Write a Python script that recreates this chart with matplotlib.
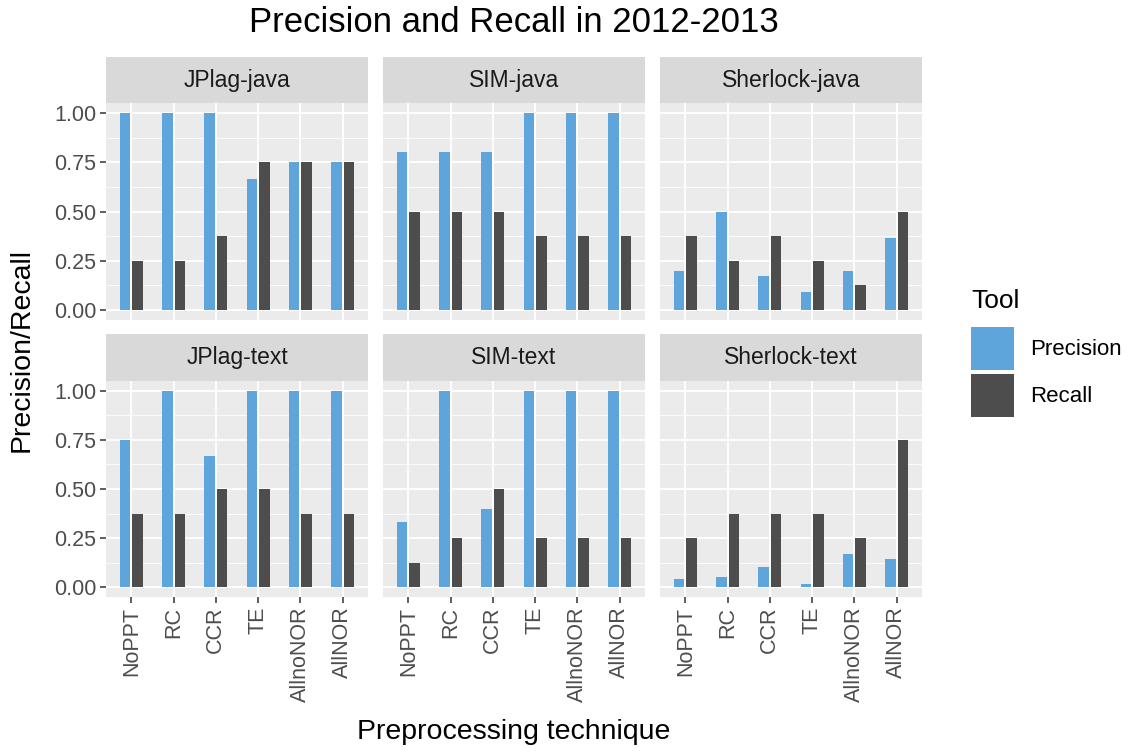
import matplotlib
matplotlib.use("Agg")
import matplotlib.pyplot as plt
import numpy as np

plt.rcParams['font.family'] = ['Liberation Sans', 'DejaVu Sans']

# data
techniques = ["NoPPT", "RC", "CCR", "TE", "AllnoNOR", "AllNOR"]
panels = ["JPlag-java", "SIM-java", "Sherlock-java",
          "JPlag-text", "SIM-text", "Sherlock-text"]

precision = {
    "JPlag-java":    [1.00, 1.00, 1.00, 0.667, 0.75, 0.75],
    "SIM-java":      [0.80, 0.80, 0.80, 1.00, 1.00, 1.00],
    "Sherlock-java": [0.20, 0.50, 0.175, 0.091, 0.20, 0.364],
    "JPlag-text":    [0.75, 1.00, 0.667, 1.00, 1.00, 1.00],
    "SIM-text":      [0.333, 1.00, 0.40, 1.00, 1.00, 1.00],
    "Sherlock-text": [0.043, 0.051, 0.105, 0.015, 0.167, 0.143],
}
recall = {
    "JPlag-java":    [0.25, 0.25, 0.375, 0.75, 0.75, 0.75],
    "SIM-java":      [0.50, 0.50, 0.50, 0.375, 0.375, 0.375],
    "Sherlock-java": [0.375, 0.25, 0.375, 0.25, 0.125, 0.50],
    "JPlag-text":    [0.375, 0.375, 0.50, 0.50, 0.375, 0.375],
    "SIM-text":      [0.125, 0.25, 0.50, 0.25, 0.25, 0.25],
    "Sherlock-text": [0.25, 0.375, 0.375, 0.375, 0.25, 0.75],
}
yticks = [0.0, 0.25, 0.5, 0.75, 1.0]
ytick_labels = ["0.00", "0.25", "0.50", "0.75", "1.00"]

C_PREC = "#5DA5DA"
C_REC = "#4D4D4D"

W, H = 1130, 751
fig = plt.figure(figsize=(W / 100, H / 100), dpi=100)

# pixel -> figure fraction
def rect(x0, y0, x1, y1):
	return [x0 / W, 1 - y1 / H, (x1 - x0) / W, (y1 - y0) / H]

cols = [(106, 368), (383, 645), (660, 922)]
rows = [((57, 103), (103, 320)), ((334, 381), (381, 597))]

x = np.arange(len(techniques))
handles = None
for i, name in enumerate(panels):
	r, c = divmod(i, 3)
	(sy0, sy1), (py0, py1) = rows[r]
	x0, x1 = cols[c]

	# strip
	sax = fig.add_axes(rect(x0, sy0, x1, sy1))
	sax.set_facecolor("#D9D9D9")
	sax.set_xticks([]); sax.set_yticks([])
	for s in sax.spines.values():
		s.set_visible(False)
	sax.text(0.5, 0.5, name, ha="center", va="center", fontsize=16.5,
	         color="#1A1A1A", transform=sax.transAxes)

	# panel
	ax = fig.add_axes(rect(x0, py0, x1, py1))
	ax.set_facecolor("#EBEBEB")
	for s in ax.spines.values():
		s.set_visible(False)
	ax.set_axisbelow(True)
	ax.set_xlim(-0.6, len(techniques) - 0.4)
	ax.set_ylim(-0.05, 1.05)
	ax.set_yticks(yticks)
	ax.set_yticks([0.125, 0.375, 0.625, 0.875], minor=True)
	ax.set_xticks(x)
	ax.grid(True, which="major", color="white", linewidth=1.3)
	ax.grid(True, which="minor", axis="y", color="white", linewidth=0.6)
	ax.tick_params(which="minor", length=0)
	ax.tick_params(which="major", length=4, width=1.1, color="#333333",
	               labelcolor="#4D4D4D", labelsize=15.5, pad=3)

	b1 = ax.bar(x - 0.15, precision[name], width=0.25, color=C_PREC)
	b2 = ax.bar(x + 0.15, recall[name], width=0.25, color=C_REC)
	handles = [b1, b2]

	if c == 0:
		ax.set_yticklabels(ytick_labels)
	else:
		ax.tick_params(axis="y", left=False, labelleft=False)
	if r == 1:
		ax.set_xticklabels(techniques, rotation=90)
	else:
		ax.tick_params(axis="x", bottom=False, labelbottom=False)

fig.text(514 / W, 1 - 22 / H, "Precision and Recall in 2012-2013",
         ha="center", va="center", fontsize=25)
fig.text(514 / W, 1 - 732 / H, "Preprocessing technique",
         ha="center", va="center", fontsize=20.5)
fig.text(22 / W, 1 - 350 / H, "Precision/Recall", rotation=90,
         ha="center", va="center", fontsize=20.5)

leg = fig.legend(handles, ["Precision", "Recall"], title="Tool",
                 loc="upper left", bbox_to_anchor=(962 / W, 1 - 280 / H),
                 frameon=False, fontsize=16, title_fontsize=19,
                 handlelength=1.95, handleheight=2.6, labelspacing=0.2,
                 handletextpad=0.7, borderaxespad=0)
leg._legend_box.align = "left"
leg._legend_box.sep = 10

fig.savefig("out.png", dpi=100)
